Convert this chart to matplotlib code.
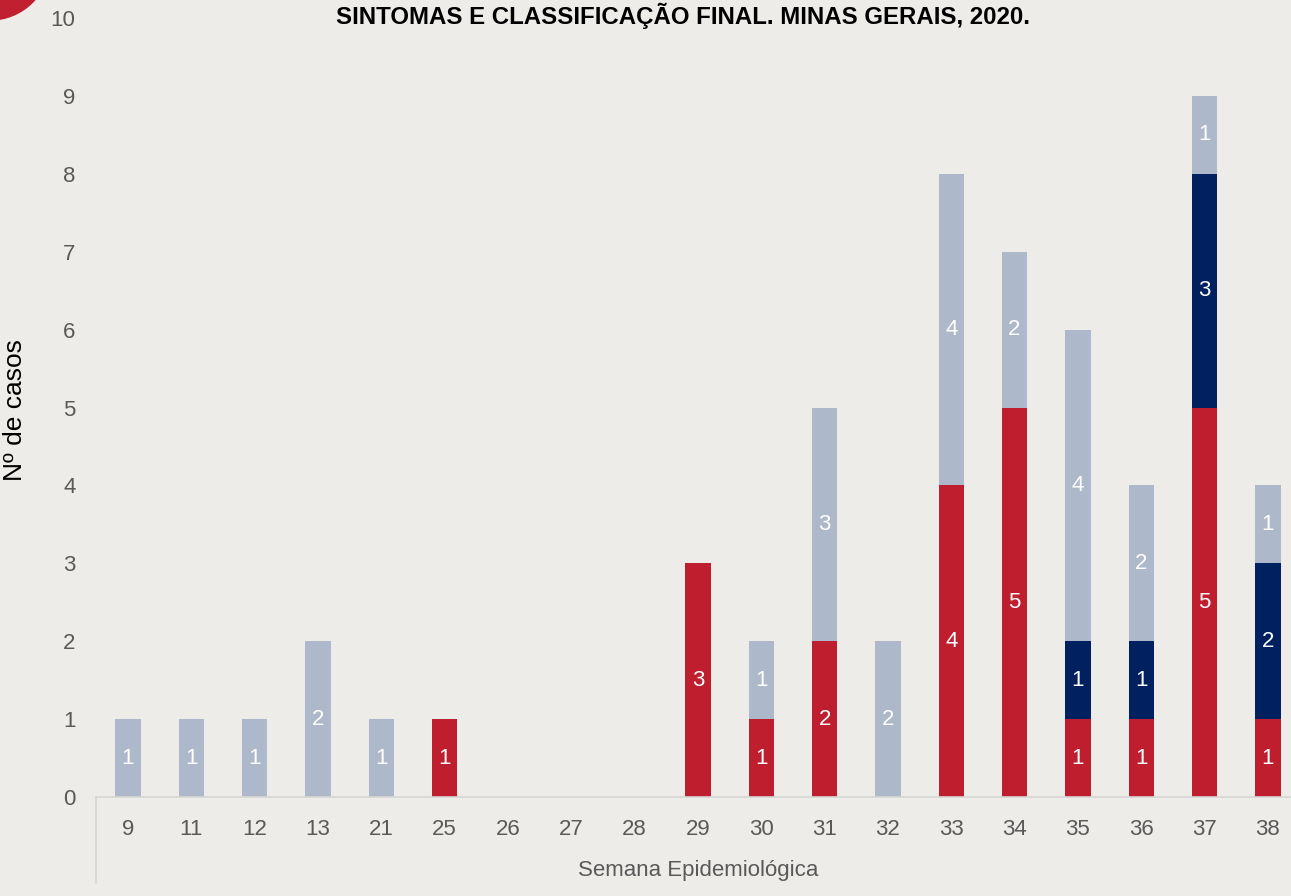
import numpy as np
import matplotlib.pyplot as plt
from matplotlib.patches import Circle
from matplotlib.lines import Line2D

plt.rcParams['font.family'] = ['Liberation Sans', 'DejaVu Sans']

semanas = ["9", "11", "12", "13", "21", "25", "26", "27", "28", "29",
           "30", "31", "32", "33", "34", "35", "36", "37", "38"]
vermelho = [0, 0, 0, 0, 0, 1, 0, 0, 0, 3, 1, 2, 0, 4, 5, 1, 1, 5, 1]
azul = [0, 0, 0, 0, 0, 0, 0, 0, 0, 0, 0, 0, 0, 0, 0, 1, 1, 3, 2]
cinza = [1, 1, 1, 2, 1, 0, 0, 0, 0, 0, 1, 3, 2, 4, 2, 4, 2, 1, 1]

BG = "#edece9"
series = [(vermelho, "#be1e2d"), (azul, "#002060"), (cinza, "#adb8ca")]

fig = plt.figure(figsize=(12.91, 8.96), dpi=100, facecolor=BG)
ax = fig.add_axes([0.0746, 0.1105, 0.932, 0.8694])
ax.set_facecolor(BG)

x = np.arange(len(semanas))
base = np.zeros(len(semanas))
for vals, cor in series:
    vals = np.asarray(vals, dtype=float)
    ax.bar(x, vals, 0.4, bottom=base, color=cor, zorder=2)
    for xi, b, v in zip(x, base, vals):
        if v > 0:
            ax.text(xi, b + v / 2, f"{int(v)}", ha="center", va="center",
                    color="white", fontsize=16, zorder=3)
    base += vals

ax.set_xlim(-0.5, len(semanas) - 0.5)
ax.set_ylim(0, 10)
ax.set_yticks(range(11))
ax.set_xticks(x, semanas)
for s in ["top", "right", "left"]:
    ax.spines[s].set_visible(False)
ax.spines["bottom"].set_color("#d6d6d4")
ax.spines["bottom"].set_linewidth(1.2)
ax.tick_params(axis="y", length=0, pad=15, labelsize=16, labelcolor="#595959")
ax.tick_params(axis="x", length=0, pad=16, labelsize=16, labelcolor="#595959")
ax.set_xlabel("Semana Epidemiológica", fontsize=16, color="#595959", labelpad=14)

fig.text(15 / 1291, 1 - 410 / 896, "Nº de casos", rotation=90, ha="center",
         va="center", fontsize=19, color="black")

# category axis border going down from the axis line
ax.add_line(Line2D([0, 0], [0, -0.11], transform=ax.transAxes, color="#d6d6d4",
                   linewidth=1.2, clip_on=False))

fig.text(0.529, 0.982, "SINTOMAS E CLASSIFICAÇÃO FINAL. MINAS GERAIS, 2020.",
         ha="center", va="center", fontsize=17.3, fontweight="bold", color="black")

# decorative red circle, top-left corner
fig.patches.append(Circle((-10, 896 + 40), 60, transform=None, color="#c0202f"))

fig.savefig("out.png", dpi=100, facecolor=BG)
